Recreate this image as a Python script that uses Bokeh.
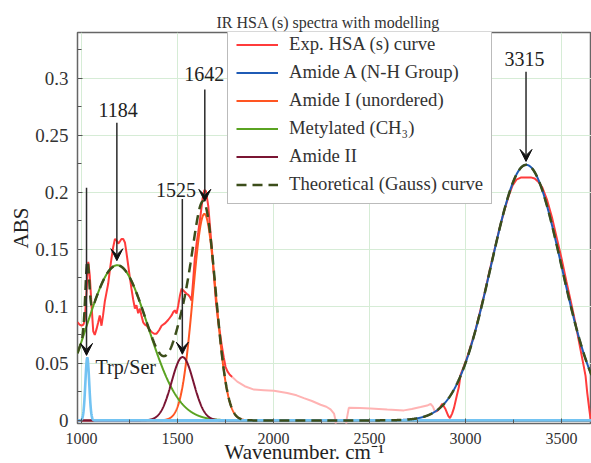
import numpy as np
from bokeh.plotting import figure
from bokeh.models import (Range1d, FixedTicker, CustomJSTickFormatter, Label, Arrow,
                          VeeHead, Legend, LegendItem, Title)
from bokeh.embed import file_html
from bokeh.resources import INLINE

NaN = float("nan")

# ---------------- data ----------------
exp_wavenumber = [979, 990, 1000, 1010, 1017, 1026, 1035, 1043, 1052, 1061, 1069, 1078, 1087,
                  1095, 1104, 1112, 1121, 1130, 1139, 1147, 1156, 1165, 1174, 1182, 1191, 1200,
                  1208, 1217, 1226, 1234, 1243, 1252, 1260, 1269, 1278, 1286, 1295, 1304, 1312,
                  1321, 1330, 1339, 1352, 1365, 1378, 1391, 1404, 1417, 1434, 1451, 1460, 1469,
                  1478, 1486, 1495, 1504, 1512, 1521, 1530, 1538, 1547, 1556, 1565, 1573, 1581,
                  1590, 1600, 1608, 1620, 1630, 1640, 1648, 1660, 1670, 1680, 1690, 1700, 1710,
                  1720, 1730, 1741, 1750, 1760, 1772, 1785,
                  1811, 1850, 1898, 1950, 2002, 2071, 2120, 2158, 2200, 2245, 2275, 2297, 2315,
                  2323, 2330, 2350, 2372, 2380, 2392, 2450, 2505, 2592, 2679, 2720, 2766, 2800,
                  2818, 2830, 2840,
                  2850, 2861, 2879, 2896, 2910, 2919, 2930, 2940, 2955, 2965, 2974, 3000, 3025,
                  3050, 3075, 3100, 3125, 3150, 3175, 3200, 3225, 3245, 3265, 3290, 3315, 3340,
                  3360, 3380, 3400, 3425, 3450, 3475, 3500, 3525, 3550, 3575, 3600, 3615, 3625,
                  3634, 3645, 3652]
exp_abs = [0.086, 0.084, 0.083, 0.084, 0.088, 0.113, 0.139, 0.127, 0.101, 0.078, 0.075, 0.080,
           0.086, 0.092, 0.083, 0.092, 0.104, 0.112, 0.120, 0.131, 0.142, 0.152, 0.159, 0.158,
           0.155, 0.157, 0.159, 0.159, 0.156, 0.147, 0.136, 0.125, 0.1155, 0.106, 0.098, 0.101,
           0.094, 0.098, 0.092, 0.086, 0.084, 0.083, 0.080, 0.0775, 0.076, 0.076, 0.079, 0.083,
           0.085, 0.088, 0.090, 0.092, 0.095, 0.0965, 0.0936, 0.101, 0.109, 0.1155, 0.114,
           0.1126, 0.111, 0.110, 0.108, 0.105, 0.122, 0.142, 0.156, 0.165, 0.180, 0.194, 0.202,
           0.201, 0.188, 0.168, 0.148, 0.126, 0.104, 0.089, 0.078, 0.066, 0.055, 0.047, 0.043,
           0.040, 0.038,
           0.034, 0.030, 0.027, 0.0265, 0.026, 0.024, 0.022, 0.0195, 0.017, 0.0137, 0.012,
           0.0097, 0.006, 0.0, -0.02, NaN, -0.02, 0.0, 0.011, 0.0108, 0.0105, 0.0096, 0.0088,
           0.010, 0.0117, 0.013, 0.0146, 0.012, 0.008,
           0.008, 0.0097, 0.0146, 0.0097, 0.004, 0.002, 0.006, 0.011, 0.022, 0.029, 0.040,
           0.051, 0.064, 0.078, 0.095, 0.112, 0.131, 0.149, 0.167, 0.183, 0.197, 0.206, 0.211,
           0.213, 0.213, 0.213, 0.212, 0.209, 0.204, 0.193, 0.178, 0.160, 0.142, 0.122, 0.103,
           0.083, 0.061, 0.048, 0.039, 0.024, 0.009, 0.0]
faded_start, faded_end = 1785, 2845   # section of the experimental curve drawn faded

# Gaussian components of the model
peak_names = ["Amide A (N-H Group)", "Amide I (unordered)", "Metylated (CH\u2083)", "Amide II", "Trp/Ser"]
peak_centers = [3316, 1640, 1186, 1526, 1030]
peak_amplitudes = [0.224, 0.181, 0.136, 0.0555, 0.055]
peak_sigmas = [183, 60, 160, 57, 10]

annotation_wavenumbers = [1026, 1184, 1525, 1642, 3315]
annotation_texts = ["Trp/Ser", "1184", "1525", "1642", "3315"]

x_ticks = [1000, 1500, 2000, 2500, 3000, 3500]
x_minor = [1250, 1750, 2250, 2750, 3250]
y_ticks = [0, 0.05, 0.1, 0.15, 0.2, 0.25, 0.3]
y_minor = [0.025, 0.075, 0.125, 0.175, 0.225, 0.275, 0.325]

# ---------------- layout / style ----------------
FONT = "Liberation Serif"
X0, X1 = 979, 3656
Y0, Y1 = -0.0027, 0.340
W, H = 591, 463
BL, BT, BB = 77, 32, 40
FW, FH = W - BL, H - BT - BB

comp_colors = ["#1f5bb5", "#ff5522", "#5aa321", "#7a1533", "#72c3f2"]
exp_color = "#ff3b3b"
faded_color = "#ffb3b3"
theo_color = "#3c4e1b"

p = figure(width=W, height=H, output_backend="svg", toolbar_location=None,
           x_range=Range1d(X0, X1), y_range=Range1d(Y0, Y1),
           min_border_left=BL, min_border_right=0, min_border_top=BT, min_border_bottom=BB)
p.background_fill_color = "white"
p.border_fill_color = "white"
p.outline_line_color = "#666666"
p.outline_line_width = 1.5

# title
p.title.text = "IR HSA (s) spectra with modelling"
p.title.text_font = FONT
p.title.text_font_size = "16px"
p.title.text_font_style = "normal"
p.title.text_color = "#333333"
p.title.align = "left"
p.title.offset = 139
p.title.standoff = 3

wn = np.array(exp_wavenumber, dtype=float)
ab = np.array(exp_abs, dtype=float)
main_mask = (wn <= faded_start) | (wn >= faded_end - 5)
faded_mask = (wn >= faded_start) & (wn <= faded_end + 5)
exp_main = np.where(main_mask, ab, np.nan)
exp_faded = np.where(faded_mask, ab, np.nan)

grid = np.linspace(X0, X1, 2678)
comps = [a * np.exp(-(grid - c) ** 2 / (2 * s ** 2))
         for c, a, s in zip(peak_centers, peak_amplitudes, peak_sigmas)]
theo = np.sum(comps, axis=0)

r_exp = p.line(wn, exp_main, line_color=exp_color, line_width=2)
p.line(wn, exp_faded, line_color=faded_color, line_width=2)
comp_renderers = []
for comp, col in zip(comps, comp_colors):
    width = 2.6 if col == comp_colors[4] else 2
    comp_renderers.append(p.line(grid, comp, line_color=col, line_width=width))
r_theo = p.line(grid, theo, line_color=theo_color, line_width=2.5, line_dash="10 6")

# axes
p.xaxis.ticker = FixedTicker(ticks=x_ticks, minor_ticks=x_minor)
p.yaxis.ticker = FixedTicker(ticks=y_ticks, minor_ticks=y_minor)
p.yaxis.formatter = CustomJSTickFormatter(code="return Number(tick.toFixed(3)).toString();")
for ax in (p.xaxis[0], p.yaxis[0]):
    ax.axis_line_color = None
    ax.major_tick_in = 5
    ax.major_tick_out = 0
    ax.minor_tick_in = 4
    ax.minor_tick_out = 0
    ax.major_tick_line_color = "#555555"
    ax.minor_tick_line_color = "#555555"
    ax.major_label_text_font = FONT
    ax.major_label_text_color = "#333333"
p.xaxis.major_label_text_font_size = "16px"
p.xaxis.major_label_standoff = 9
p.yaxis.major_label_text_font_size = "19px"
p.yaxis.major_label_standoff = 9
p.grid.grid_line_color = "#d6ecd6"
p.grid.grid_line_width = 1

# axis titles
p.add_layout(Title(text="Wavenumber. cm\u207b\u00b9", text_font=FONT, text_font_size="21px",
                   text_font_style="normal", text_color="#222222", align="left",
                   offset=147, standoff=-17), "below")
p.add_layout(Title(text="ABS", text_font=FONT, text_font_size="21px",
                   text_font_style="normal", text_color="#222222", align="center",
                   standoff=0), "left")

# legend
legend_items = [LegendItem(label="Exp. HSA (s) curve", renderers=[r_exp])]
for name, r in zip(peak_names[:4], comp_renderers[:4]):
    legend_items.append(LegendItem(label=name, renderers=[r]))
legend_items.append(LegendItem(label="Theoretical (Gauss) curve", renderers=[r_theo]))
legend = Legend(items=legend_items, location=(150, FH - 172), margin=0, padding=8, spacing=6,
                glyph_width=42, glyph_height=21, label_height=21, label_standoff=11,
                label_text_font=FONT, label_text_font_size="18.7px", label_text_color="#333333",
                border_line_color="#777777", border_line_width=1.5,
                background_fill_color="white", background_fill_alpha=1.0)
p.add_layout(legend)

# arrows and peak labels
arrow_tops = [0.204, 0.261, 0.194, 0.290, 0.3055]
arrow_tips = [0.057, 0.140, 0.058, 0.192, 0.227]
label_x = [1073, 1190, 1492, 1639, 3307]
label_y = [0.0465, 0.272, 0.202, 0.3035, 0.317]
for wv, txt, yt, yb, lx, ly in zip(annotation_wavenumbers, annotation_texts, arrow_tops,
                                    arrow_tips, label_x, label_y):
    p.add_layout(Arrow(x_start=wv, y_start=yt, x_end=wv, y_end=yb,
                       line_color="#2a2a2a", line_width=1.5,
                       end=VeeHead(size=12, fill_color="#111111", line_color="#111111")))
    p.add_layout(Label(x=lx, y=ly, text=txt, text_font=FONT, text_font_size="20px",
                       text_color="#222222", text_align="left" if txt == "Trp/Ser" else "center",
                       text_baseline="middle"))

open("out.html", "w").write(file_html(p, INLINE))
